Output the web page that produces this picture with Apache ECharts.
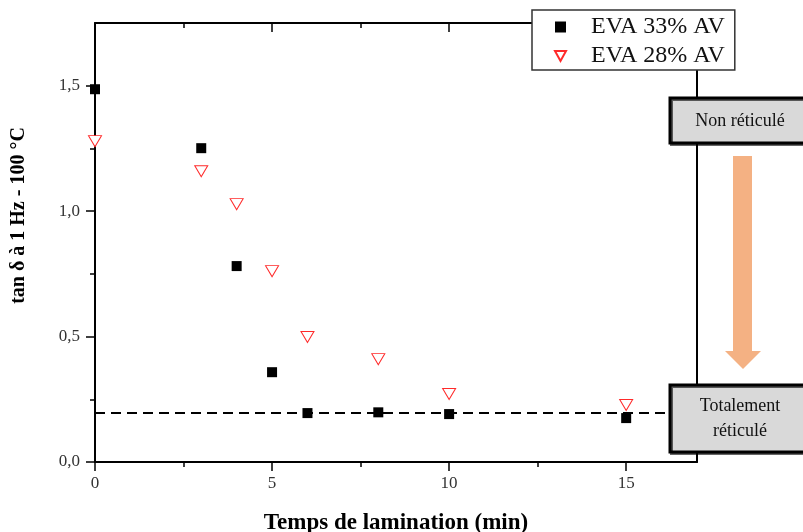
<!DOCTYPE html>
<html><head><meta charset="utf-8">
<script src="https://cdn.jsdelivr.net/npm/echarts@6/dist/echarts.min.js"></script>
<style>html,body{margin:0;padding:0;background:#fff}#c{width:803px;height:532px}</style>
</head><body><div id="c"></div>
<script>
var timeMin = [0, 3, 4, 5, 6, 8, 10, 15];
var eva33 = [1.486, 1.251, 0.781, 0.358, 0.195, 0.198, 0.191, 0.175];
var eva28 = [1.279, 1.159, 1.028, 0.761, 0.498, 0.41, 0.271, 0.227];
var seriesNames = ['EVA 33% AV', 'EVA 28% AV'];
var xTicks = [0, 5, 10, 15];
var yTicks = [0, 0.5, 1.0, 1.5];
var thresholdY = 0.195;
var boxLabels = ['Non réticulé', 'Totalement\nréticulé'];

var serif = 'Liberation Serif';
var chart = echarts.init(document.getElementById('c'));
function pts(ys){ return timeMin.map(function(x,i){return [x, ys[i]];}); }
var fmt = function(v){ return v.toFixed(1).replace('.', ','); };
var boxStyle = {fill:'#d9d9d9', stroke:'#000', lineWidth:3, shadowColor:'rgba(0,0,0,0.6)', shadowOffsetX:1.5, shadowOffsetY:1.5, shadowBlur:0};
chart.setOption({
  animation:false,
  grid:{left:95, right:106, top:23, bottom:70, outerBoundsMode:'none', containLabel:false},
  legend:{
    orient:'vertical', left:532, top:10, width:204,
    padding:[5, 10, 2, 22], itemGap:5, itemWidth:11, itemHeight:11,
    backgroundColor:'#fff', borderColor:'#333', borderWidth:1.5,
    textStyle:{fontFamily:serif, fontSize:24, color:'#111', padding:[0,0,0,20]},
    data:[{name:seriesNames[0], icon:'rect'}, {name:seriesNames[1], icon:'path://M0,0L10,0L5,9Z'}],
    z:10
  },
  xAxis:[{
    type:'value', min:0, max:17, interval:5,
    name:'Temps de lamination (min)', nameLocation:'middle', nameGap:50,
    nameTextStyle:{fontFamily:serif, fontSize:23, fontWeight:'bold', color:'#000'},
    axisLine:{onZero:false, lineStyle:{color:'#000', width:2}},
    axisTick:{length:9, customValues:xTicks, lineStyle:{color:'#000', width:1.5}},
    minorTick:{show:true, splitNumber:2, length:5, lineStyle:{color:'#000', width:1.5}},
    axisLabel:{fontFamily:serif, fontSize:17, color:'#333', margin:13, customValues:xTicks},
    splitLine:{show:false}
  },{
    type:'value', position:'top', min:0, max:17, interval:5,
    axisLine:{show:true, onZero:false, lineStyle:{color:'#000', width:2}},
    axisTick:{inside:true, length:9, customValues:xTicks, lineStyle:{color:'#000', width:1.5}},
    minorTick:{show:true, splitNumber:2, length:5, lineStyle:{color:'#000', width:1.5}},
    axisLabel:{show:false}, splitLine:{show:false}
  }],
  yAxis:[{
    type:'value', min:0, max:1.75, interval:0.5,
    name:'tan δ à 1 Hz - 100 °C', nameLocation:'middle', nameGap:66,
    nameTextStyle:{fontFamily:serif, fontSize:20, fontWeight:'bold', color:'#000', padding:[0,0,0,54]},
    axisLine:{show:true, onZero:false, lineStyle:{color:'#000', width:2}},
    axisTick:{show:true, length:9, customValues:yTicks, lineStyle:{color:'#000', width:1.5}},
    minorTick:{show:true, splitNumber:2, length:5, lineStyle:{color:'#000', width:1.5}},
    axisLabel:{fontFamily:serif, fontSize:17, color:'#333', margin:15, formatter:fmt, customValues:yTicks},
    splitLine:{show:false}
  },{
    type:'value', position:'right', min:0, max:1.75, interval:0.5,
    axisLine:{show:true, onZero:false, lineStyle:{color:'#000', width:2}},
    axisTick:{show:false}, axisLabel:{show:false}, splitLine:{show:false}
  }],
  series:[{
    name:seriesNames[0], type:'scatter', data:pts(eva33),
    symbol:'rect', symbolSize:10,
    itemStyle:{color:'#000', opacity:1}, z:5,
    markLine:{
      silent:true, symbol:'none', label:{show:false},
      lineStyle:{color:'#000', type:[10,6], width:2, opacity:1},
      data:[[{coord:[0, thresholdY]},{coord:[17, thresholdY]}]]
    }
  },{
    name:seriesNames[1], type:'scatter', data:pts(eva28),
    symbol:'path://M0,0L10,0L5,9Z', symbolSize:[13,11],
    itemStyle:{color:'#fff', borderColor:'#ff2a2a', borderWidth:1, opacity:1}, z:4
  }],
  graphic:[
    {type:'rect', z:20, shape:{x:670, y:98, width:140, height:45}, style:boxStyle},
    {type:'text', z:21, style:{x:740, y:121, text:boxLabels[0], fontFamily:serif, fontSize:18, fill:'#111', align:'center', verticalAlign:'middle'}},
    {type:'rect', z:20, shape:{x:670, y:385, width:140, height:67}, style:boxStyle},
    {type:'text', z:21, style:{x:740, y:419, text:boxLabels[1], fontFamily:serif, fontSize:18, lineHeight:25, fill:'#111', align:'center', verticalAlign:'middle'}},
    {type:'polygon', z:20, shape:{points:[[733,156],[752,156],[752,351],[761,351],[743,369],[725,351],[733,351]]}, style:{fill:'#f4b183'}}
  ]
});
</script></body></html>
